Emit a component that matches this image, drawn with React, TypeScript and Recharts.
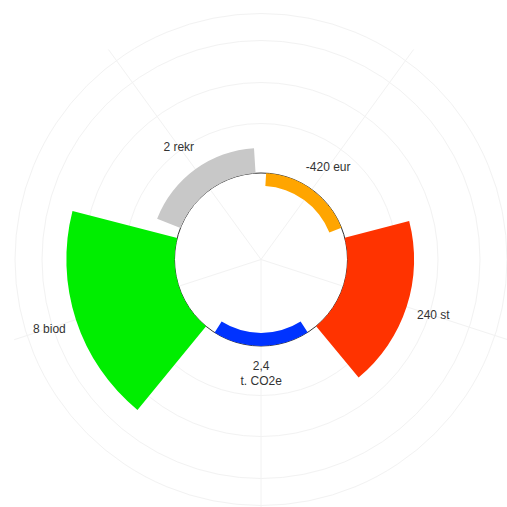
import React from 'react';
import {
  RadialBarChart,
  RadialBar,
  PolarAngleAxis,
  PolarRadiusAxis,
  PolarGrid,
  Cell,
  Sector,
} from 'recharts';

// ---- data ----
const categories = ['-420 eur', '2 rekr', '8 biod', '2,4\nt. CO2e', '240 st'];
const scores = [-0.3, 0.58, 2.5, -0.3, 1.54];
const colors = ['#FFA500', '#C8C8C8', '#00EE00', '#0033FF', '#FF3300'];
const radiusDomain: [number, number] = [-2, 4];
const gridRadii = [136, 177, 219, 246];

const data = categories.map((name, i) => ({ name, value: scores[i] }));

// ---- layout ----
const W = 507;
const H = 507;
const CX = 261;
const CY = 259.5;
const INNER = 0;
const OUTER = 259.5;
const ANGLE0 = 18;
const STEP = 360 / categories.length;
const START = ANGLE0 + STEP;
const gridAngles = categories.map((_, i) => ANGLE0 + STEP * (i + 0.5));
const baseRadius =
  INNER + ((0 - radiusDomain[0]) / (radiusDomain[1] - radiusDomain[0])) * (OUTER - INNER);
const RADIAN = Math.PI / 180;
const LABEL_OFFSET = 28;

const BarShape = (props: any) => {
  const { cx, cy, innerRadius, outerRadius, startAngle, endAngle, fill, payload } = props;
  const r0 = Math.min(innerRadius, outerRadius);
  const r1 = Math.max(innerRadius, outerRadius);
  const mid = (startAngle + endAngle) / 2;
  const lr = r1 + LABEL_OFFSET;
  const lx = cx + lr * Math.cos(-mid * RADIAN);
  const ly = cy + lr * Math.sin(-mid * RADIAN);
  const lines = String(payload?.name ?? '').split('\n');
  const lh = 15;
  const y0 = ly - ((lines.length - 1) * lh) / 2;
  return (
    <g>
      <Sector
        cx={cx}
        cy={cy}
        innerRadius={r0}
        outerRadius={r1}
        startAngle={startAngle}
        endAngle={endAngle}
        fill={fill}
        stroke="none"
      />
      <text
        x={lx}
        y={y0}
        textAnchor="middle"
        dominantBaseline="central"
        fontSize={12}
        fontFamily="'Liberation Sans', Arial, sans-serif"
        fill="#333"
      >
        {lines.map((l, i) => (
          <tspan key={i} x={lx} dy={i === 0 ? 0 : lh}>
            {l}
          </tspan>
        ))}
      </text>
    </g>
  );
};

export default function App() {
  return (
    <div style={{ position: 'absolute', left: 0, top: 0, width: W, height: H, background: '#fff' }}>
      <RadialBarChart
        width={W}
        height={H}
        cx={CX}
        cy={CY}
        innerRadius={INNER}
        outerRadius={OUTER}
        startAngle={START}
        endAngle={START + 360}
        layout="centric"
        data={data}
        barCategoryGap="5%"
        margin={{ top: 0, right: 0, bottom: 0, left: 0 }}
      >
        <PolarGrid gridType="circle" polarRadius={gridRadii} polarAngles={gridAngles} stroke="#f2f2f2" />
        <PolarAngleAxis type="category" dataKey="name" tick={false} axisLine={false} tickLine={false} />
        <PolarRadiusAxis
          type="number"
          domain={radiusDomain}
          allowDataOverflow
          tick={false}
          axisLine={false}
          tickLine={false}
        />
        <RadialBar dataKey="value" isAnimationActive={false} shape={BarShape} background={false}>
          {data.map((_, i) => (
            <Cell key={i} fill={colors[i]} />
          ))}
        </RadialBar>
        <PolarGrid gridType="circle" polarRadius={[baseRadius]} radialLines={false} stroke="#333" strokeWidth={1} />
      </RadialBarChart>
    </div>
  );
}
